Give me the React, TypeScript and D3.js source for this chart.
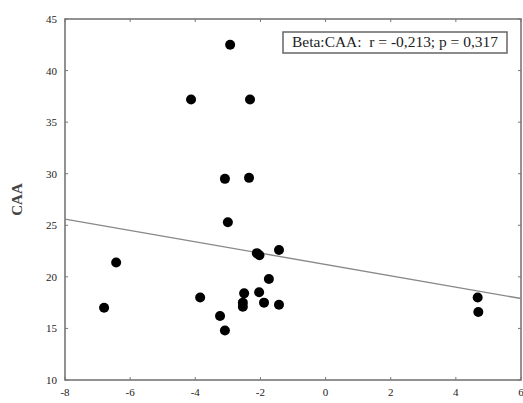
import React from 'react';
import * as d3 from 'd3';

const xTicks = [-8, -6, -4, -2, 0, 2, 4, 6];
const yTicks = [10, 15, 20, 25, 30, 35, 40, 45];

const betaValues = [
  -2.93, -4.13, -2.32, -3.09, -2.35, -3.0, -6.43, -6.8, -2.11, -2.03, -1.43,
  -1.74, -2.5, -2.04, -2.54, -2.54, -1.89, -1.43, -3.85, -3.24, -3.09, 4.67, 4.69,
];
const caaValues = [
  42.5, 37.2, 37.2, 29.5, 29.6, 25.3, 21.4, 17.0, 22.3, 22.1, 22.6,
  19.8, 18.4, 18.5, 17.5, 17.1, 17.5, 17.3, 18.0, 16.2, 14.8, 18.0, 16.6,
];
// regression line end values at x = -8 and x = 6
const fitX = [-8, 6];
const fitY = [25.6, 17.9];

const legendText = 'Beta:CAA:  r = -0,213; p = 0,317';

export default function App() {
  const width = 523;
  const height = 403;
  const margin = { top: 19, right: 2, bottom: 23, left: 65 };
  const x = d3.scaleLinear().domain([-8, 6]).range([margin.left, width - margin.right]);
  const y = d3.scaleLinear().domain([10, 45]).range([height - margin.bottom, margin.top]);
  const line = d3.line<number>().x((d) => x(fitX[d])).y((d) => y(fitY[d]));

  const axisColor = '#777';
  const tickFont = 'Liberation Serif, Times New Roman, serif';

  return (
    <svg width={width} height={height} style={{ position: 'absolute', left: 0, top: 0, background: '#fff' }}>
      <rect x={x(-8)} y={y(45)} width={x(6) - x(-8)} height={y(10) - y(45)} fill="none" stroke={axisColor} strokeWidth={1.6} />
      {xTicks.map((t) => (
        <g key={'x' + t}>
          <line x1={x(t)} x2={x(t)} y1={y(10)} y2={y(10) - 3} stroke={axisColor} />
          <line x1={x(t)} x2={x(t)} y1={y(45)} y2={y(45) + 3} stroke={axisColor} />
          <text x={x(t)} y={y(10) + 16} textAnchor="middle" fontFamily={tickFont} fontSize={11} fill="#222">
            {t}
          </text>
        </g>
      ))}
      {yTicks.map((t) => (
        <g key={'y' + t}>
          <line x1={x(-8)} x2={x(-8) + 3} y1={y(t)} y2={y(t)} stroke={axisColor} />
          <line x1={x(6)} x2={x(6) - 3} y1={y(t)} y2={y(t)} stroke={axisColor} />
          <text x={x(-8) - 8} y={y(t) + 4} textAnchor="end" fontFamily={tickFont} fontSize={11} fill="#222">
            {t}
          </text>
        </g>
      ))}
      <text
        transform={`translate(22, ${y(27.5)}) rotate(-90)`}
        textAnchor="middle"
        fontFamily={tickFont}
        fontWeight="bold"
        fontSize={15}
        fill="#444"
      >
        CAA
      </text>
      <path d={line([0, 1]) ?? ''} fill="none" stroke="#888" strokeWidth={1.4} />
      {betaValues.map((b, i) => (
        <circle key={i} cx={x(b)} cy={y(caaValues[i])} r={5} fill="#000" />
      ))}
      <rect x={283} y={32} width={224} height={21} fill="#fff" stroke="#666" strokeWidth={1.5} />
      <text
        x={292}
        y={47}
        textLength={206}
        lengthAdjust="spacingAndGlyphs"
        fontFamily={tickFont}
        fontSize={14}
        fill="#222"
        style={{ whiteSpace: 'pre' }}
      >
        {legendText}
      </text>
    </svg>
  );
}
